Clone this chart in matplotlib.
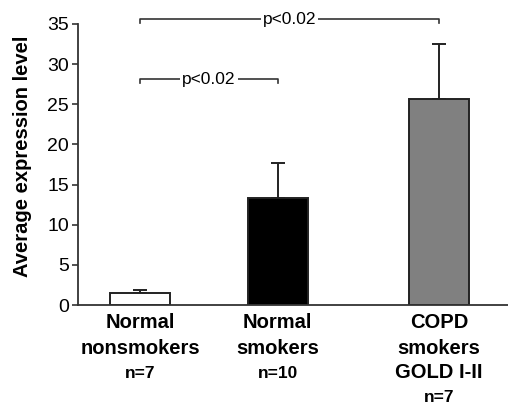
import matplotlib
matplotlib.use("Agg")
import matplotlib.pyplot as plt
from matplotlib.transforms import blended_transform_factory

plt.rcParams['font.family'] = ['Liberation Sans', 'DejaVu Sans']

categories = [["Normal", "nonsmokers"], ["Normal", "smokers"], ["COPD", "smokers", "GOLD I-II"]]
n_labels = ["n=7", "n=10", "n=7"]
means = [1.45, 13.35, 25.6]
errors = [0.42, 4.35, 6.9]
colors = ["white", "black", "#808080"]
positions = [1.0, 2.0, 3.175]
yticks = [0, 5, 10, 15, 20, 25, 30, 35]
brackets = [(0, 1, 28.1, "p<0.02"), (0, 2, 35.6, "p<0.02")]

fig = plt.figure(figsize=(5.08, 4.04), dpi=100)
ax = fig.add_axes([78/508, 99/404, 430/508, 281/404])

ax.bar(positions, means, width=0.436, color=colors, edgecolor="#222222", linewidth=1.4, zorder=2)
ax.errorbar(positions, means, yerr=[[0]*3, errors], fmt="none", ecolor="#222222",
            elinewidth=1.4, capsize=5, capthick=1.4, zorder=1)

ax.set_xlim(0.549, 3.676)
ax.set_ylim(0, 35)
ax.set_yticks(yticks)
ax.tick_params(axis='y', labelsize=14, length=4.5, width=1.2, color="#333333", pad=2)
ax.set_xticks([])
for s in ["top", "right"]:
    ax.spines[s].set_visible(False)
for s in ["left", "bottom"]:
    ax.spines[s].set_color("#333333")
    ax.spines[s].set_linewidth(1.3)

ax.set_ylabel("Average expression level", fontsize=14.5, fontweight="bold")
ax.yaxis.set_label_coords(-0.106, 0.53)

trans = blended_transform_factory(ax.transData, fig.transFigure)
line_y = [404-323, 404-348, 404-373, 404-398]
for pos, lines, n in zip(positions, categories, n_labels):
    for i, t in enumerate(lines):
        ax.text(pos, line_y[i]/404, t, transform=trans, ha="center", va="center",
                fontsize=14.5, fontweight="bold")
    ax.text(pos, line_y[len(lines)]/404, n, transform=trans, ha="center", va="center",
            fontsize=12.5, fontweight="bold")

for i, j, y, label in brackets:
    x0, x1 = positions[i], positions[j]
    ax.plot([x0, x0, x1, x1], [y-0.5, y, y, y-0.5], color="#333333", lw=1.2,
            clip_on=False, zorder=3)
    ax.text((x0+x1)/2, y, label, ha="center", va="center", fontsize=12.5,
            bbox=dict(facecolor="white", edgecolor="none", pad=1.5), zorder=4, clip_on=False)

fig.savefig("out.png", dpi=100)
